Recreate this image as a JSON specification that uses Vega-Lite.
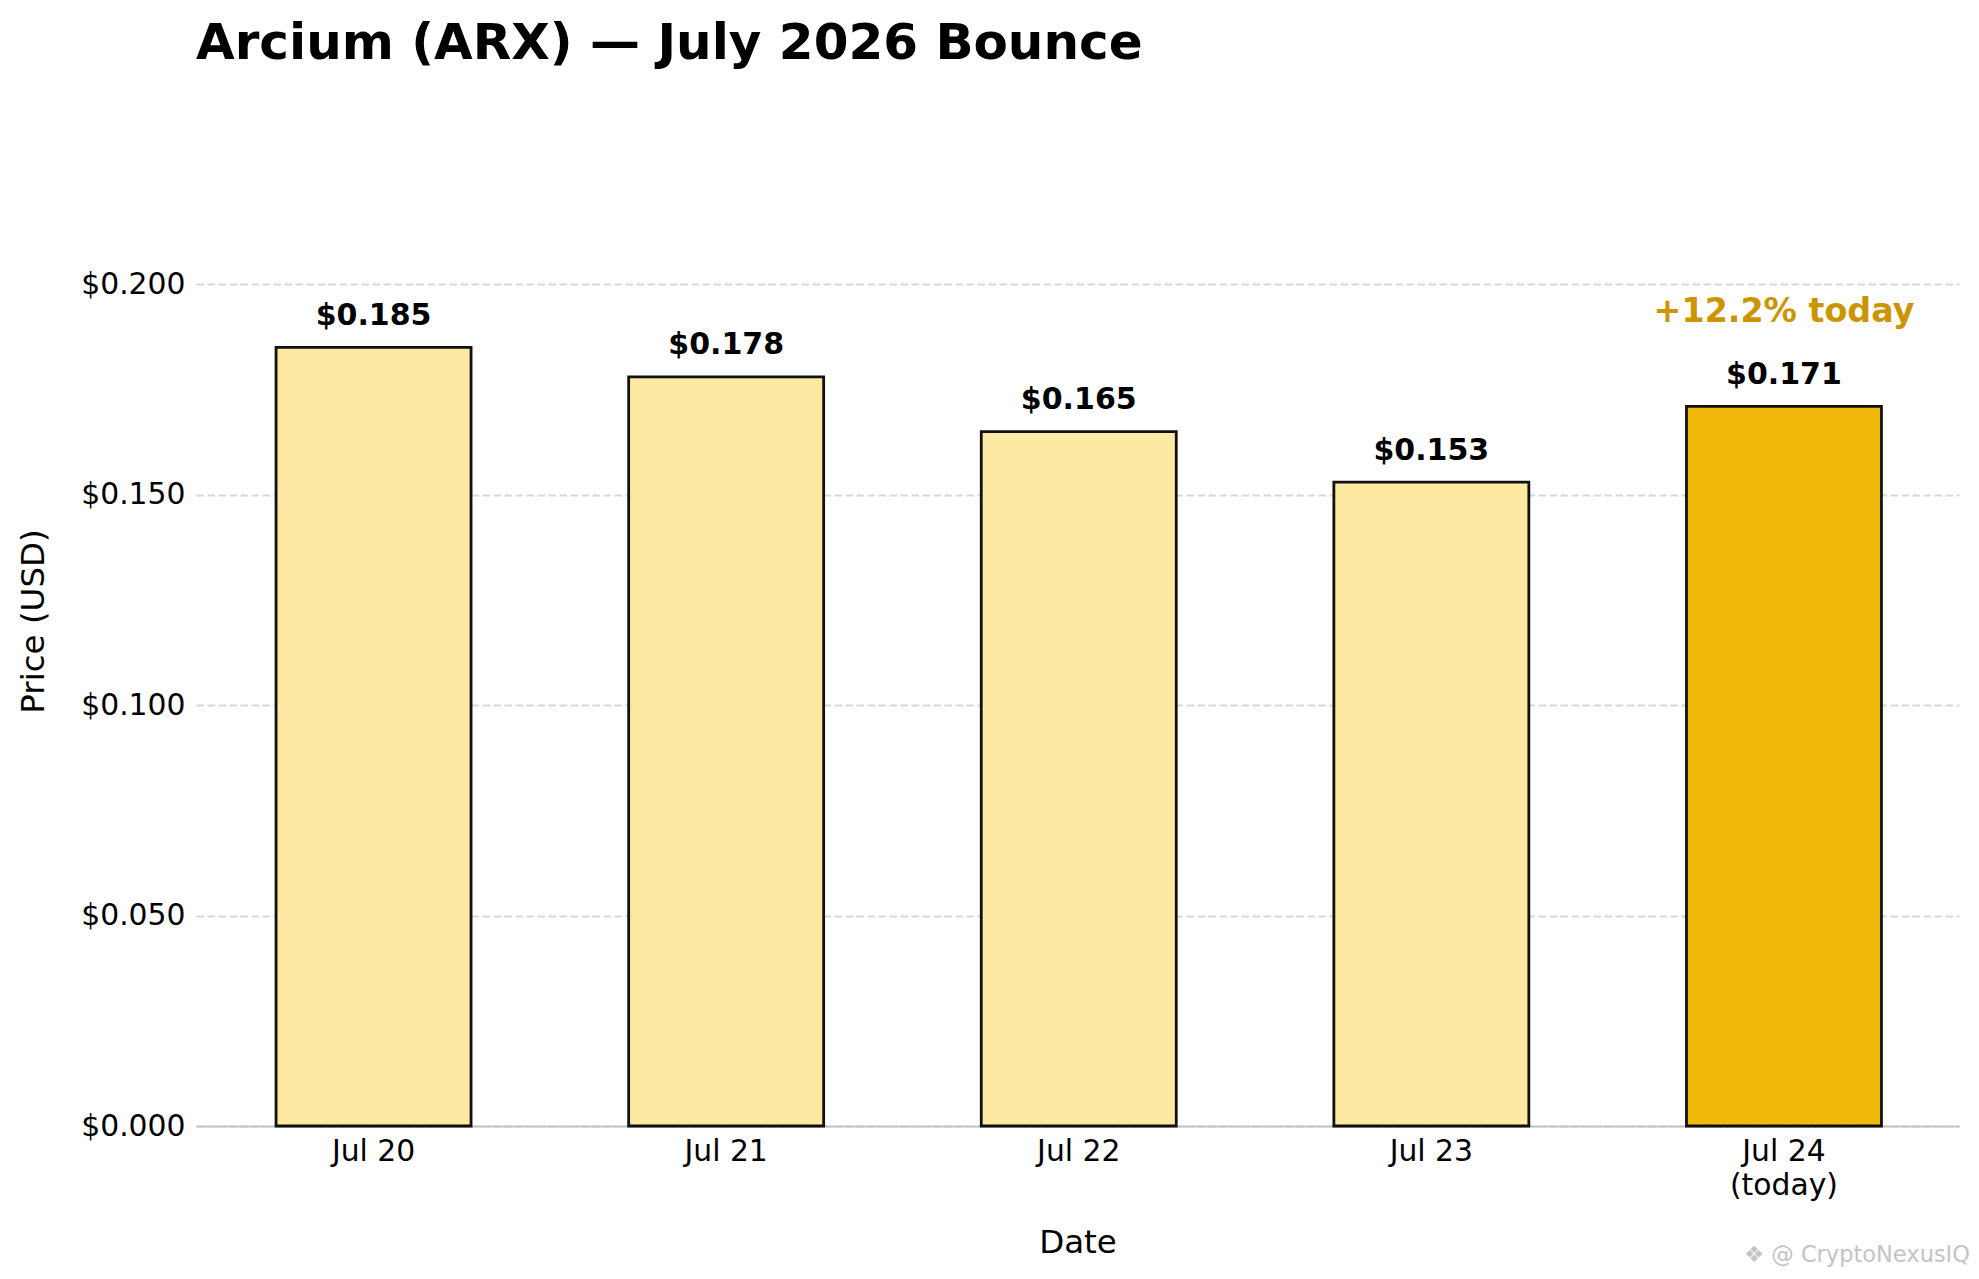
{
  "$schema": "https://vega.github.io/schema/vega-lite/v6.json",
  "width": 1763,
  "height": 1010,
  "autosize": {"type": "none"},
  "padding": {"left": 196, "top": 116, "right": 20, "bottom": 153},
  "background": "white",
  "title": {
    "text": "Arcium (ARX) — July 2026 Bounce",
    "anchor": "start",
    "frame": "group",
    "font": "DejaVu Sans",
    "fontSize": 50,
    "fontWeight": "bold",
    "color": "#000000",
    "baseline": "alphabetic",
    "offset": 7
  },
  "config": {"view": {"stroke": null}, "font": "DejaVu Sans"},
  "data": {
    "values": [
      {"date": "Jul 20", "price": 0.185, "kind": "past", "note": ""},
      {"date": "Jul 21", "price": 0.178, "kind": "past", "note": ""},
      {"date": "Jul 22", "price": 0.165, "kind": "past", "note": ""},
      {"date": "Jul 23", "price": 0.153, "kind": "past", "note": ""},
      {"date": "Jul 24", "price": 0.171, "kind": "today", "note": "+12.2% today"}
    ]
  },
  "layer": [
    {
      "mark": {"type": "bar", "stroke": "#111111", "strokeWidth": 2.8},
      "encoding": {
        "x": {
          "field": "date",
          "type": "nominal",
          "sort": null,
          "scale": {"paddingInner": 0.447, "paddingOuter": 0.2235, "align": 0.508},
          "axis": {
            "title": "Date",
            "labelAngle": 0,
            "labelFont": "DejaVu Sans",
            "labelFontSize": 29.8,
            "labelColor": "#000000",
            "labelPadding": 10,
            "labelLineHeight": 34,
            "labelExpr": "datum.value == 'Jul 24' ? ['Jul 24', '(today)'] : datum.label",
            "ticks": false,
            "tickSize": 0,
            "domain": true,
            "domainColor": "#c4c4c4",
            "domainWidth": 2,
            "grid": false,
            "titleFont": "DejaVu Sans",
            "titleFontSize": 32.5,
            "titleFontWeight": "normal",
            "titleColor": "#000000",
            "titlePadding": 27
          }
        },
        "y": {
          "field": "price",
          "type": "quantitative",
          "scale": {"domain": [0, 0.24], "nice": false, "zero": true},
          "axis": {
            "title": "Price (USD)",
            "values": [0, 0.05, 0.1, 0.15, 0.2],
            "format": "$.3f",
            "labelFont": "DejaVu Sans",
            "labelFontSize": 29.8,
            "labelColor": "#000000",
            "labelPadding": 11,
            "ticks": false,
            "tickSize": 0,
            "domain": false,
            "grid": true,
            "gridColor": "#d8d8d8",
            "gridDash": [7.5, 3.5],
            "gridWidth": 1.8,
            "titleFont": "DejaVu Sans",
            "titleFontSize": 32.5,
            "titleFontWeight": "normal",
            "titleColor": "#000000",
            "titlePadding": 30
          }
        },
        "color": {
          "field": "kind",
          "type": "nominal",
          "scale": {"domain": ["past", "today"], "range": ["#FDE9A2", "#F0B90B"]},
          "legend": null
        }
      }
    },
    {
      "mark": {
        "type": "text",
        "baseline": "alphabetic",
        "align": "center",
        "dy": -22.5,
        "font": "DejaVu Sans",
        "fontWeight": "bold",
        "fontSize": 30,
        "color": "#000000"
      },
      "encoding": {
        "x": {"field": "date", "type": "nominal", "sort": null},
        "y": {"field": "price", "type": "quantitative"},
        "text": {"field": "price", "type": "quantitative", "format": "$.3f"}
      }
    },
    {
      "transform": [{"filter": "datum.note != ''"}],
      "mark": {
        "type": "text",
        "baseline": "alphabetic",
        "align": "center",
        "dy": -84,
        "font": "DejaVu Sans",
        "fontWeight": "bold",
        "fontSize": 33.3,
        "color": "#CC9500"
      },
      "encoding": {
        "x": {"field": "date", "type": "nominal", "sort": null},
        "y": {"field": "price", "type": "quantitative"},
        "text": {"field": "note"}
      }
    },
    {
      "data": {"values": [{"date": "Jul 24", "mark": "❖ @ CryptoNexusIQ"}]},
      "mark": {
        "type": "text",
        "baseline": "alphabetic",
        "align": "right",
        "dx": 186,
        "font": "DejaVu Sans",
        "fontSize": 22.5,
        "color": "#c4c4c4"
      },
      "encoding": {
        "x": {"field": "date", "type": "nominal", "sort": null},
        "y": {"datum": -0.0323},
        "text": {"field": "mark"}
      }
    }
  ]
}
